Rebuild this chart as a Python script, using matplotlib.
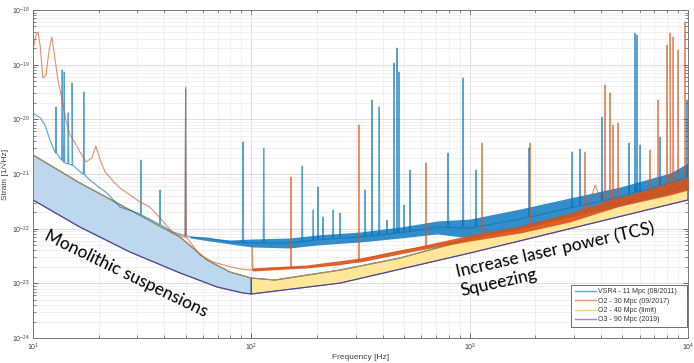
import numpy as np
import matplotlib
matplotlib.use("Agg")
import matplotlib.pyplot as plt
from matplotlib.lines import Line2D
from matplotlib.ticker import LogLocator, NullFormatter

# ---------------- data ----------------
# O2 design limit (upper edge of the bands) and O3 (lower edge)
lim_f = [10, 16.4, 27.8, 47.1, 62.7, 79.9, 100, 128, 255, 480, 1005, 10000]
lim_h = [2.23e-21, 6.85e-22, 2.20e-22, 7.05e-23, 2.67e-23, 1.61e-23, 1.25e-23,
         1.15e-23, 1.75e-23, 2.91e-23, 6.47e-23, 5.79e-22]
o3_f = [10, 16.4, 27.8, 47.1, 69.7, 91.6, 100, 255, 1005, 10000]
o3_h = [3.35e-22, 1.07e-22, 3.74e-23, 1.55e-23, 8.57e-24, 6.66e-24, 6.38e-24,
        1.01e-23, 3.59e-23, 3.35e-22]

# VSR4 floor
vsr4_f = [10, 10.8, 11.35, 11.96, 12.6, 13.3, 14.0, 15.1, 16.1, 17.3, 18.2, 20.3,
          21.8, 25.0, 30.0, 37.0, 43.8, 52.4, 62.7, 79.9, 101, 150, 200, 315, 480,
          709, 1005, 1700, 2880, 4890, 8280, 10000]
vsr4_h = [1.31e-20, 1.06e-20, 7.88e-21, 4.19e-21, 2.53e-21, 1.96e-21, 1.59e-21,
          1.46e-21, 1.18e-21, 9.59e-22, 7.77e-22, 5.55e-22, 4.50e-22, 2.49e-22,
          1.94e-22, 1.27e-22, 8.69e-23, 7.05e-23, 6.75e-23, 5.71e-23, 5.47e-23,
          5.47e-23, 6.21e-23, 7.05e-23, 8.33e-23, 1.07e-22, 1.03e-22, 1.50e-22,
          2.39e-22, 3.80e-22, 6.85e-22, 9.20e-22]
# VSR4 noise envelope
vsr4_fuzz_f = [52.4, 79.9, 101, 150, 200, 315, 480, 709, 1005, 1700, 2880, 4890, 8280, 10000]
vsr4_fuzz_hi = [7.35e-23, 6.21e-23, 6.47e-23, 6.75e-23, 7.66e-23, 8.69e-23, 1.07e-22,
                1.38e-22, 1.50e-22, 2.29e-22, 3.64e-22, 5.79e-22, 1.04e-21, 1.59e-21]
vsr4_fuzz_lo = [6.75e-23, 5.25e-23, 4.62e-23, 4.43e-23, 5.03e-23, 5.71e-23, 6.75e-23,
                8.0e-23, 6.75e-23, 9.86e-23, 1.64e-22, 2.60e-22, 4.50e-22, 5.32e-22]
# VSR4 lines
vsr4_peak_f = [12.75, 13.6, 13.9, 14.5, 15.1, 17.1, 31.2, 38.2, 50, 91.6, 114, 171,
               192, 202, 213, 237, 255, 332, 357, 385, 418, 450, 465, 475, 501, 533,
               796, 933, 1070, 1871, 2945, 3204, 4040, 5370, 5720, 5845, 6035, 7450, 9900]
vsr4_peak_h = [1.68e-20, 8.0e-20, 7.35e-20, 1.31e-20, 4.62e-20, 3.16e-20, 1.80e-21,
               5.10e-22, 3.5e-20, 3.85e-21, 2.99e-21, 1.40e-21, 2.20e-22, 5.79e-22,
               1.64e-22, 2.20e-22, 1.94e-22, 5.10e-22, 2.26e-20, 1.68e-20, 1.44e-22,
               1.07e-19, 2.02e-19, 7.35e-20, 2.71e-22, 1.18e-21, 2.42e-21, 5.70e-20,
               1.18e-21, 2.99e-21, 2.53e-21, 2.87e-21, 1.10e-20, 3.69e-21, 3.79e-19,
               3.49e-19, 3.40e-21, 4.75e-21, 2.26e-20]

# O2 floor
o2_f = [10, 10.32, 10.54, 10.77, 11.1, 11.47, 11.84, 12.2, 12.6, 13.0, 13.6, 14.2,
        14.8, 15.6, 16.4, 17.5, 18.6, 19.4, 20.3, 21.4, 23.0, 25.0, 27.8, 30.9, 34.3,
        38.2, 43.8, 50.8, 58.2, 66.8, 77.4, 88.8, 101, 126, 180, 255, 315, 432, 612,
        812, 1005, 1700, 2880, 3487, 3754, 4040, 4890, 8280, 10000]
o2_h = [1.85e-19, 3.49e-19, 3.96e-19, 2.29e-19, 5.70e-20, 6.47e-20, 1.85e-19, 3.21e-19,
        1.32e-19, 5.25e-20, 2.26e-20, 8.94e-21, 5.17e-21, 3.69e-21, 2.53e-21, 1.66e-21,
        1.96e-21, 3.25e-21, 1.80e-21, 1.09e-21, 7.77e-22, 5.55e-22, 4.13e-22, 3.08e-22,
        2.49e-22, 1.57e-22, 8.33e-23, 6.75e-23, 3.30e-23, 2.46e-23, 2.08e-23, 1.83e-23,
        1.75e-23, 1.91e-23, 1.99e-23, 2.17e-23, 2.67e-23, 3.59e-23, 4.62e-23, 5.47e-23,
        6.75e-23, 9.86e-23, 1.64e-22, 2.49e-22, 6.30e-22, 2.95e-22, 3.21e-22, 5.55e-22,
        7.14e-22]
o2_fuzz_f = [101, 180, 315, 593, 1005, 1700, 2880, 4890, 8280, 10000]
o2_fuzz_hi = [1.91e-23, 2.17e-23, 2.91e-23, 4.82e-23, 7.66e-23, 1.12e-22, 1.94e-22,
              3.80e-22, 6.85e-22, 8.45e-22]
o2_fuzz_lo = [1.68e-23, 1.91e-23, 2.46e-23, 4.07e-23, 5.95e-23, 8.33e-23, 1.33e-22,
              2.60e-22, 4.13e-22, 5.10e-22]
o2_peak_f = [50, 101, 152, 311, 631, 1140, 1891, 3378, 4170, 4396, 4538, 4786, 6700,
             7295, 8020, 8280, 8550, 9010, 9700]
o2_peak_h = [3.91e-20, 4.62e-23, 8.81e-22, 7.87e-21, 1.59e-21, 3.69e-21, 3.69e-21,
             2.53e-21, 4.25e-20, 3.03e-20, 7.87e-21, 8.57e-21, 2.75e-21, 2.26e-20,
             2.29e-19, 3.79e-19, 3.21e-19, 1.85e-19, 6.04e-19]

legend_labels = ["VSR4 - 11 Mpc (08/2011)   ", "O2 - 30 Mpc (09/2017)",
                 "O2 - 40 Mpc (limit)", "O3 - 90 Mpc (2019)"]

# ---------------- style ----------------
C_VSR4 = "#0072BD"
C_O2 = "#D95319"
C_LIM = "#EDB120"
C_O3 = "#7E2F8E"
C_BLUEFILL = "#bdd7ee"
C_YELFILL = "#ffe699"
C_EDGE = "#2f5597"

plt.rcParams["font.family"] = ["Liberation Sans", "DejaVu Sans"]
plt.rcParams["mathtext.default"] = "regular"


def with_spikes(bf, bh, pf, ph, w=0.0025):
    lbf = np.log10(bf)
    lbh = np.log10(bh)
    xs = list(lbf)
    ys = list(lbh)
    for f, h in zip(pf, ph):
        lf = np.log10(f)
        base = np.interp(lf, lbf, lbh)
        xs += [lf - w, lf, lf + w]
        ys += [base, np.log10(h), base]
    xs = np.array(xs)
    ys = np.array(ys)
    o = np.argsort(xs, kind="stable")
    return 10 ** xs[o], 10 ** ys[o]


fig = plt.figure(figsize=(6.94, 3.63), dpi=100)
ax = fig.add_axes([33 / 694, 25 / 363, 655 / 694, 328 / 363])
ax.set_xscale("log")
ax.set_yscale("log")
ax.set_xlim(10, 1e4)
ax.set_ylim(1e-24, 1e-18)

# grid
ax.grid(True, which="major", color="#d8d8d8", lw=0.6, zorder=0)
ax.grid(True, which="minor", color="#ececec", lw=0.5, zorder=0)
ax.set_axisbelow(True)

# bands
lf = np.array(lim_f); lh = np.array(lim_h)
of = np.array(o3_f); oh = np.array(o3_h)
mu = lf <= 100; ml = of <= 100
ax.fill(np.concatenate([lf[mu], of[ml][::-1]]), np.concatenate([lh[mu], oh[ml][::-1]]),
        facecolor=C_BLUEFILL, edgecolor=C_EDGE, lw=0.9, zorder=1)
mu = lf >= 100; ml = of >= 100
ax.fill(np.concatenate([lf[mu], of[ml][::-1]]), np.concatenate([lh[mu], oh[ml][::-1]]),
        facecolor=C_YELFILL, edgecolor=C_EDGE, lw=0.9, zorder=1)
ax.plot(lim_f, lim_h, color=C_LIM, lw=0.6, alpha=0.8, zorder=1.5)
ax.plot(o3_f, o3_h, color=C_O3, lw=0.6, alpha=0.6, zorder=1.5)

# VSR4
ax.fill_between(vsr4_fuzz_f, vsr4_fuzz_lo, vsr4_fuzz_hi, color=C_VSR4, lw=0, alpha=0.8, zorder=2)
x, y = with_spikes(vsr4_f, vsr4_h, vsr4_peak_f, vsr4_peak_h)
ax.plot(x, y, color=C_VSR4, lw=0.8, alpha=0.65, zorder=2.2)

# O2
ax.fill_between(o2_fuzz_f, o2_fuzz_lo, o2_fuzz_hi, color=C_O2, lw=0, alpha=0.9, zorder=3)
x, y = with_spikes(o2_f, o2_h, o2_peak_f, o2_peak_h)
ax.plot(x, y, color=C_O2, lw=0.8, alpha=0.65, zorder=3.2)

# ticks
ax.xaxis.set_major_locator(LogLocator(base=10, numticks=10))
ax.xaxis.set_minor_locator(LogLocator(base=10, subs=np.arange(2, 10), numticks=20))
ax.xaxis.set_minor_formatter(NullFormatter())
ax.yaxis.set_major_locator(LogLocator(base=10, numticks=10))
ax.yaxis.set_minor_locator(LogLocator(base=10, subs=np.arange(2, 10), numticks=20))
ax.yaxis.set_minor_formatter(NullFormatter())
ax.tick_params(which="both", direction="in", top=True, right=True,
               labelsize=5, labelcolor="#404040", color="#555555")
ax.tick_params(which="major", length=3.5, width=0.6)
ax.tick_params(which="minor", length=2, width=0.5)
ax.tick_params(axis="x", pad=2.5)
ax.tick_params(axis="y", pad=2)
for s in ax.spines.values():
    s.set_color("#777777")
    s.set_linewidth(0.7)

ax.set_xlabel("Frequency [Hz]", fontsize=6, color="#404040", labelpad=1)
ax.set_ylabel("Strain [1/\u221aHz]", fontsize=6, color="#404040", labelpad=2)

# legend
handles = [Line2D([], [], color=c, lw=1.0, alpha=0.6) for c in (C_VSR4, C_O2, C_LIM, C_O3)]
leg = ax.legend(handles, legend_labels, loc="lower right", bbox_to_anchor=(0.998, 0.034),
                borderaxespad=0, fontsize=5, frameon=True, fancybox=False,
                edgecolor="#333333", framealpha=1, handlelength=3, labelspacing=0.35,
                borderpad=0.5, handletextpad=0.4)
leg.get_frame().set_linewidth(0.5)
for t in leg.get_texts():
    t.set_color("#333333")
leg.set_zorder(10)

# annotations
tfam = ["Lato", "DejaVu Sans"]
fig.text(43 / 694, 1 - 239 / 363, "Monolithic suspensions", rotation=-25.8,
         rotation_mode="anchor", ha="left", va="baseline", fontsize=12.5,
         family=tfam, color="black")
fig.text(457 / 694, 1 - 277 / 363, "Increase laser power (TCS)", rotation=12.6,
         rotation_mode="anchor", ha="left", va="baseline", fontsize=12.5,
         family=tfam, color="black")
fig.text(461.5 / 694, 1 - 296.5 / 363, "Squeezing", rotation=12.6,
         rotation_mode="anchor", ha="left", va="baseline", fontsize=12.5,
         family=tfam, color="black")

fig.savefig("out.png", dpi=100)
